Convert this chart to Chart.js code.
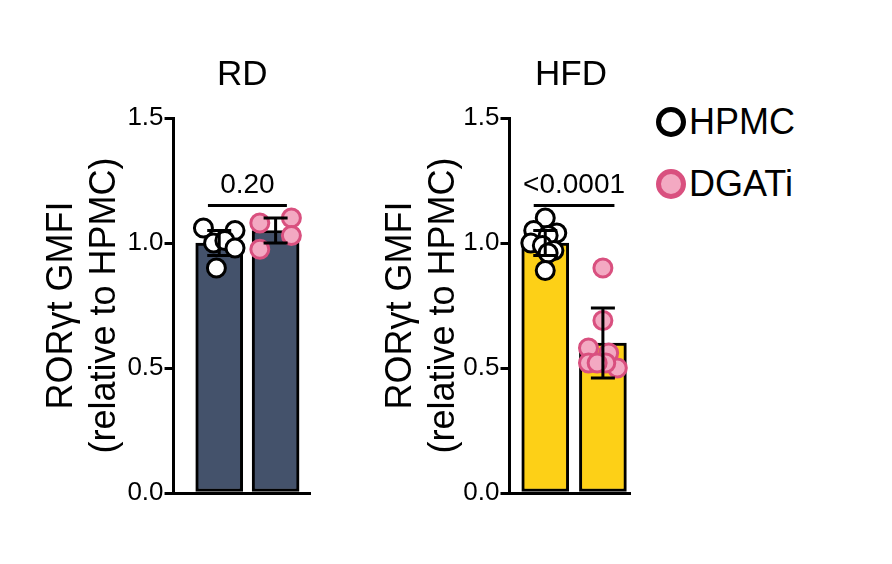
<!DOCTYPE html>
<html><head><meta charset="utf-8">
<script src="https://cdn.jsdelivr.net/npm/chart.js@4"></script>
<style>
body{margin:0;background:#fff;font-family:"Liberation Sans",Arial,sans-serif;}
#wrap{position:relative;width:892px;height:564px;}
.c{position:absolute;top:0;}
.t{position:absolute;font-size:35px;color:#000;}
.lg{position:absolute;font-size:36px;display:flex;align-items:center;}
.dot{width:20px;height:20px;border-radius:50%;border:5px solid;margin-right:3px;}
</style></head><body>
<div id="wrap">
<div class="c" style="left:0;width:322px;height:564px"><canvas id="c1"></canvas></div>
<div class="c" style="left:340px;width:302px;height:564px"><canvas id="c2"></canvas></div>
<div class="t" style="left:217px;top:53px">RD</div>
<div class="t" style="left:535px;top:53px">HFD</div>
<div class="lg" style="left:656px;top:101px"><div class="dot" style="border-color:#000;background:#fff"></div>HPMC</div>
<div class="lg" style="left:656px;top:163px"><div class="dot" style="border-color:#d9507f;background:#f3a9c2"></div>DGATi</div>
</div>
<script>
const groups=['HPMC','DGATi'];
const rdMeans=[1.00,1.05], rdErr=[0.05,0.05];
const rdHPMC=[1.06,1.05,1.00,1.01,0.98,0.90];
const rdDGAT=[1.08,1.10,1.03,0.975];
const hfdMeans=[1.00,0.60], hfdErr=[0.05,0.14];
const hfdHPMC=[1.10,1.05,1.04,1.03,1.00,0.99,0.97,0.96,0.89];
const hfdDGAT=[0.90,0.69,0.58,0.56,0.52,0.50,0.52,0.52];
const jitRD=[[-0.28,0.28,-0.1,0.1,0.28,-0.05],[-0.28,0.28,0.28,-0.28]];
const jitHFD=[[0,-0.2,0.2,0.05,-0.25,-0.05,0.15,0.05,0],[0,0,-0.25,0.1,-0.25,0.25,0.05,-0.1]];
const rdP='0.20', hfdP='<0.0001';
const yTicks=[0,0.5,1.0,1.5];

function pts(vals,idx,jit){return vals.map((v,i)=>({x:idx+jit[i],y:v}));}
const errPlugin={id:'err',afterDatasetsDraw(ch,a,o){
 const c=ch.ctx,x=ch.scales.x,y=ch.scales.y,d=ch.config.options.plugins.err;
 c.save();c.strokeStyle='#000';c.lineWidth=3;
 d.means.forEach((m,i)=>{const px=x.getPixelForValue(i);
  const t=y.getPixelForValue(m+d.err[i]),b=y.getPixelForValue(m-d.err[i]);
  c.beginPath();c.moveTo(px,t);c.lineTo(px,b);c.moveTo(px-12,t);c.lineTo(px+12,t);c.moveTo(px-12,b);c.lineTo(px+12,b);c.stroke();});
 const by=y.getPixelForValue(d.bracketY);
 c.beginPath();c.moveTo(x.getPixelForValue(-0.2),by);c.lineTo(x.getPixelForValue(1.2),by);c.stroke();
 c.fillStyle='#000';c.font='28px "Liberation Sans",Arial';c.textAlign='center';c.textBaseline='bottom';
 c.fillText(d.p,x.getPixelForValue(0.5),by-6);c.restore();}};

function make(id,color,means,err,a,b,ja,jb,xmin,xmax,p,padL){
 new Chart(document.getElementById(id),{
  data:{datasets:[
   {type:'bar',data:means.map((m,i)=>({x:i,y:m})),backgroundColor:color,borderColor:'#000',borderWidth:3,barThickness:47,borderSkipped:false,order:3},
   {type:'scatter',data:pts(a,0,ja),pointRadius:9,pointBorderWidth:3,pointBackgroundColor:'#fff',pointBorderColor:'#000',order:1},
   {type:'scatter',data:pts(b,1,jb),pointRadius:9,pointBorderWidth:3,pointBackgroundColor:'#f3a9c2',pointBorderColor:'#d9507f',order:1}]},
  options:{responsive:true,maintainAspectRatio:false,animation:false,
   layout:{padding:{top:118,bottom:63,left:padL,right:2}},
   plugins:{legend:{display:false},tooltip:{enabled:false},err:{means,err,bracketY:1.15,p}},
   scales:{
    x:{type:'linear',offset:false,min:xmin,max:xmax,grid:{display:false,offset:false},ticks:{display:false},border:{display:true,color:'#000',width:3}},
    y:{min:0,max:1.5,afterBuildTicks(s){s.ticks=yTicks.map(v=>({value:v}));},
     ticks:{color:'#000',font:{size:26,family:'"Liberation Sans",Arial'},callback:v=>v.toFixed(1),padding:1},
     grid:{drawOnChartArea:false,color:'#000',lineWidth:3,tickLength:9},border:{color:'#000',width:3},
     title:{display:true,text:['RORγt GMFI','(relative to HPMC)'],color:'#000',font:{size:36,family:'"Liberation Sans",Arial'},padding:0}}}},
  plugins:[errPlugin]});
}
make('c1','#44526b',rdMeans,rdErr,rdHPMC,rdDGAT,jitRD[0],jitRD[1],-0.81,1.61,rdP,40);
make('c2','#fdd017',hfdMeans,hfdErr,hfdHPMC,hfdDGAT,jitHFD[0],jitHFD[1],-0.62,1.47,hfdP,39);
</script></body></html>
